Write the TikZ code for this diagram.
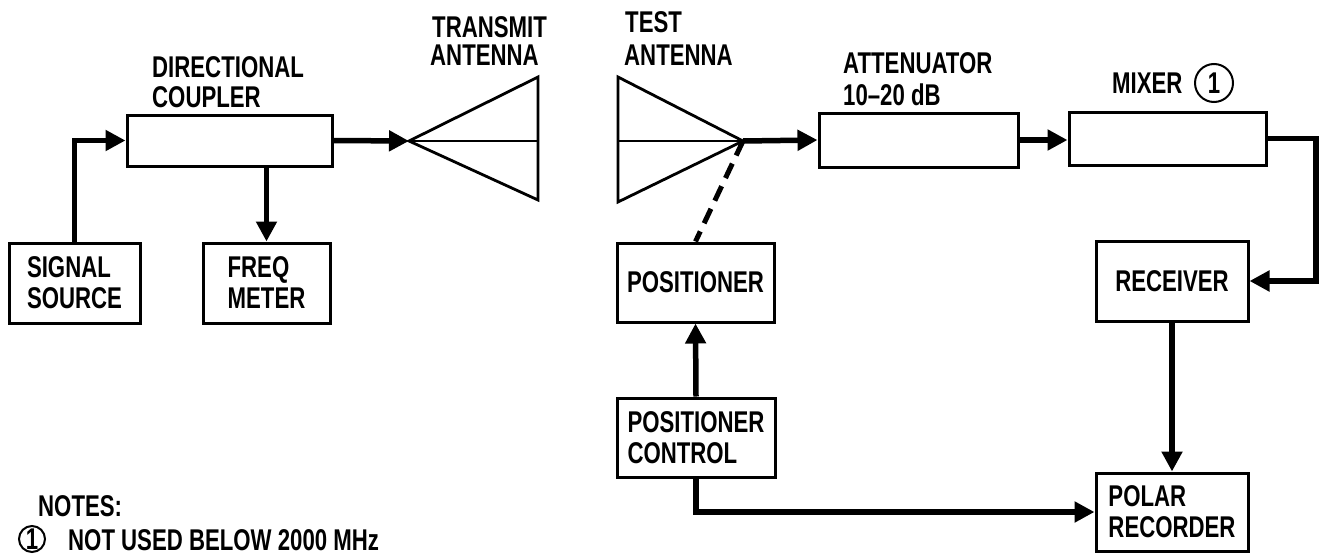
\documentclass[tikz,border=0pt]{standalone}
\usepackage{fontspec}
\setmainfont{Liberation Sans}[FakeStretch=0.74]
\usetikzlibrary{arrows.meta}
\newcommand\lblfont{\bfseries\fontsize{30}{31}\selectfont}
\tikzset{
  box/.style={draw, line width=3pt, inner sep=0pt, align=left, font=\lblfont},
  arr/.style={line width=5.5pt, -{Triangle[length=20pt,width=20pt]}},
  ant/.style={line width=2.8pt, line join=miter},
  lbl/.style={inner sep=0pt, anchor=base west, font=\lblfont},
  num/.style={draw, circle, line width=2pt, inner sep=0pt, font=\lblfont}
}
\begin{document}
\begin{tikzpicture}[x=1pt,y=-1pt]
\useasboundingbox (0,0) rectangle (1327,554);
% boxes
\node[box, minimum width=205pt, minimum height=51pt] (cpl) at (229.5,140.5) {};
\node[box, minimum width=131pt, minimum height=80pt] (src) at (74.5,283) {SIGNAL\\SOURCE};
\node[box, minimum width=127pt, minimum height=80pt] (freq) at (266.5,283) {FREQ\\METER};
\node[box, minimum width=199pt, minimum height=54pt] (att) at (918.5,140) {};
\node[box, minimum width=197pt, minimum height=53pt] (mix) at (1167.5,138.5) {};
\node[box, minimum width=152pt, minimum height=80pt] (rec) at (1172,281) {RECEIVER};
\node[box, minimum width=157pt, minimum height=79pt] (pos) at (695.5,282.5) {POSITIONER};
\node[box, minimum width=158pt, minimum height=79pt] (pc) at (696,437.5) {POSITIONER\\CONTROL};
\node[box, minimum width=152pt, minimum height=78pt] (pol) at (1172,512) {POLAR\\RECORDER};
% labels
\node[lbl] (l1) at (152,77) {DIRECTIONAL};
\node[lbl] (l2) at (152,107) {COUPLER};
\node[lbl] (l3) at (432,37) {TRANSMIT};
\node[lbl] (l4) at (430,65) {ANTENNA};
\node[lbl] (l5) at (625,32) {TEST};
\node[lbl] (l6) at (624,65) {ANTENNA};
\node[lbl] (l7) at (843,73) {ATTENUATOR};
\node[lbl] (l8) at (843,105) {10--20 dB};
\node[lbl] (l9) at (1112,93) {MIXER};
\node[num, minimum size=38pt] (c1) at (1214,83) {1};
\node[lbl] (n1) at (38,516) {NOTES:};
\node[num, minimum size=26pt] (c2) at (32,539) {1};
\node[lbl] (n2) at (68,550) {NOT USED BELOW 2000 MHz};
% transmit antenna
\coordinate (ta) at (409,141);
\coordinate (tat) at (538,77);
\coordinate (tab) at (538,200);
\coordinate (tam) at (538,141);
\draw[ant] (tat) -- (ta) -- (tab) -- cycle;
\draw[ant] (ta) -- (tam);
% test antenna
\coordinate (ra) at (743,141);
\coordinate (rat) at (618,77);
\coordinate (rab) at (618,202);
\coordinate (ram) at (618,141);
\draw[ant] (rat) -- (ra) -- (rab) -- cycle;
\draw[ant] (ram) -- (ra);
% connectors
\draw[arr] (src.north) |- (cpl.west);
\draw[arr] (freq.north |- cpl.south) -- (freq.north);
\draw[arr] (cpl.east) -- (ta);
\draw[arr] (ra) -- (att.west);
\draw[arr] (att.east) -- (att.east -| mix.west);
\coordinate (mt) at (1316,138.5);
\coordinate (mb) at (1316,281);
\draw[arr] (mix.east) -- (mt) -- (mb) -- (rec.east);
\draw[arr] (rec.south) -- (pol.north);
\draw[arr] (pc.north) -- (pos.south);
\coordinate (pcb) at (pc.south |- pol.west);
\draw[arr] (pc.south) -- (pcb) -- (pol.west);
\draw[line width=5pt, dash pattern=on 16pt off 9pt] (ra) -- (pos.north);
\end{tikzpicture}
\end{document}
